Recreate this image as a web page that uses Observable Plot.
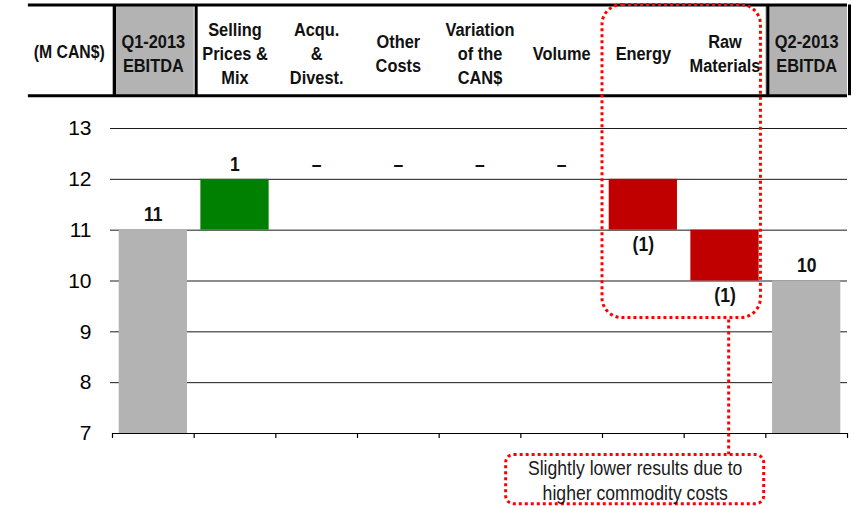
<!DOCTYPE html>
<html>
<head>
<meta charset="utf-8">
<script src="https://cdn.jsdelivr.net/npm/d3@7"></script>
<script src="https://cdn.jsdelivr.net/npm/@observablehq/plot@0.6"></script>
<style>
  html, body { margin: 0; padding: 0; background: #fff; }
  #chart svg { display: block; }
</style>
</head>
<body>
<div id="chart"></div>
<script>
// EBITDA bridge, Q1-2013 to Q2-2013 (M CAN$)
const categories = [
  "Q1-2013\nEBITDA",
  "Selling\nPrices &\nMix",
  "Acqu.\n&\nDivest.",
  "Other\nCosts",
  "Variation\nof the\nCAN$",
  "Volume",
  "Energy",
  "Raw\nMaterials",
  "Q2-2013\nEBITDA"
];
const kinds = ["total", "delta", "delta", "delta", "delta", "delta", "delta", "delta", "total"];
const values = [11, 1, 0, 0, 0, 0, -1, -1, 10];
const valueLabels = ["11", "1", "–", "–", "–", "–", "(1)", "(1)", "10"];
const yTicks = [7, 8, 9, 10, 11, 12, 13];
const unitLabel = "(M CAN$)";
const noteText = "Slightly lower results due to\nhigher commodity costs";

const GRAY = "#b3b3b3", GREEN = "#008000", RED = "#c00000", NOTE = "#ff0000";
const FONT = '"Liberation Sans", Arial, sans-serif';

// running totals for the waterfall
let running = 0;
const rows = categories.map((name, i) => {
  let start, end;
  if (kinds[i] === "total") { start = yTicks[0]; end = values[i]; running = values[i]; }
  else { start = running; end = running + values[i]; running = end; }
  const up = values[i] >= 0;
  return {
    i, name, value: values[i], label: valueLabels[i], kind: kinds[i],
    start, end,
    fill: kinds[i] === "total" ? GRAY : (up ? GREEN : RED),
    labelY: up ? Math.max(start, end) : Math.min(start, end),
    up
  };
});

// header band (drawn above the plot frame, in value units)
const header = {top: 15.43, bottom: 13.645, mid: 14.5};
// commodity-cost callout
const focus = {x1: 6.0, x2: 7.94, y1: 9.27, y2: header.top, r: 20};
const note = {x1: 4.82, x2: 7.98, y1: 5.61, y2: 6.575, r: 8, cx: 6.4, cy: 6.09, link: 7.545};

const dotted = {stroke: NOTE, strokeWidth: 3, strokeDasharray: "3 3", fill: "none"};

// horizontal squeeze for each text mark, in mark order (condensed lettering)
const squeeze = [0.88, 0.85, 0.9, 0.9, 0.86];

const chart = Plot.plot({
  width: 854,
  height: 509,
  marginLeft: 112,
  marginRight: 7,
  marginTop: 128,
  marginBottom: 76,
  x: {domain: [0, categories.length]},
  y: {domain: [yTicks[0], yTicks[yTicks.length - 1]]},
  style: {fontFamily: FONT, color: "#000", background: "#fff"},
  marks: [
    // header: shaded total columns and ruled borders
    Plot.rect(rows.filter(d => d.kind === "total"), {
      x1: d => d.i, x2: d => d.i + 1, y1: header.bottom, y2: header.top, fill: GRAY
    }),
    Plot.ruleX(rows.filter(d => d.kind === "total").flatMap(d => [d.i, d.i + 1]), {
      y1: header.bottom, y2: header.top, stroke: "#000", strokeWidth: 3, dx: 2
    }),
    Plot.ruleY([header.top, header.bottom], {
      x1: -1.03, x2: categories.length, stroke: "#000", strokeWidth: 3
    }),
    Plot.text(rows, {
      x: d => d.i + 0.5, y: header.mid, text: "name",
      lineAnchor: "middle", lineHeight: 1.3,
      fontWeight: "bold", fontSize: 18.6, fill: "#111"
    }),
    Plot.text([unitLabel], {
      x: -0.53, y: header.mid, text: d => d, lineAnchor: "middle",
      fontWeight: "bold", fontSize: 18.6, fill: "#111"
    }),

    // gridlines and axes
    Plot.ruleY(yTicks.slice(1), {stroke: "#1a1a1a", strokeWidth: 1, insetLeft: -2}),
    Plot.axisY({ticks: yTicks, tickSize: 0, tickPadding: 21, fontSize: 21, tickFormat: "d"}),

    // waterfall bars
    Plot.rectY(rows, {
      x1: d => d.i, x2: d => d.i + 1, y1: "start", y2: "end",
      fill: "fill", insetLeft: 6.7, insetRight: 6.7
    }),

    Plot.ruleY([yTicks[0]], {stroke: "#000", strokeWidth: 1.2}),
    Plot.axisX({
      ticks: d3.range(categories.length + 1), tickSize: 5, tickFormat: () => "",
      stroke: "#000", strokeWidth: 1.2
    }),

    // value labels: above gains and totals, below losses
    Plot.text(rows.filter(d => d.up), {
      x: d => d.i + 0.5, y: "labelY", text: "label", dy: -15,
      fontWeight: "bold", fontSize: 19.5, fill: "#111"
    }),
    Plot.text(rows.filter(d => !d.up), {
      x: d => d.i + 0.5, y: "labelY", text: "label", dy: 15,
      fontWeight: "bold", fontSize: 19.5, fill: "#111"
    }),

    // callout around the commodity items
    Plot.rect([focus], {x1: "x1", x2: "x2", y1: "y1", y2: "y2", rx: focus.r, ...dotted}),
    Plot.ruleX([note.link], {y1: note.y2, y2: focus.y1, ...dotted}),
    Plot.rect([note], {x1: "x1", x2: "x2", y1: "y1", y2: "y2", rx: note.r, ...dotted, fill: "#fff"}),
    Plot.text([noteText], {
      x: note.cx, y: note.cy, text: d => d, lineAnchor: "middle", lineHeight: 1.22,
      fontSize: 20.5, fill: "#1a1a1a"
    })
  ]
});

chart.querySelectorAll('g[aria-label="text"]').forEach((g, j) => {
  const k = squeeze[j] ?? 1;
  g.querySelectorAll("text").forEach(t => {
    t.setAttribute("transform", `${t.getAttribute("transform") || ""} scale(${k},1)`);
  });
});

document.getElementById("chart").appendChild(chart);
</script>
</body>
</html>
